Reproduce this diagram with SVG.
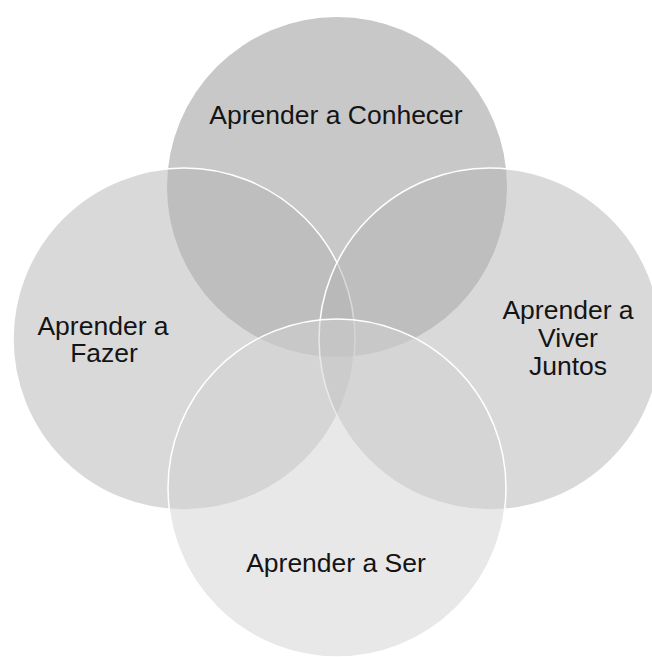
<svg xmlns="http://www.w3.org/2000/svg" width="652" height="657" viewBox="0 0 652 657">
  <style>
    .ring { stroke: #ffffff; stroke-width: 1.5; }
    .label { font-family: "Liberation Sans", Arial, sans-serif; font-size: 26.5px; fill: #141414; text-anchor: middle; }
  </style>
  <rect width="652" height="657" fill="#ffffff"/>
  <g id="connectors"/>
  <g id="conhecer">
    <circle cx="337" cy="187" r="170" fill="#c8c8c8"/>
    <text class="label" x="336" y="124">Aprender a Conhecer</text>
  </g>
  <g id="fazer">
    <circle class="ring" cx="184" cy="339" r="171" fill="#b3b3b3" fill-opacity="0.5"/>
    <text class="label" x="103" y="335">Aprender a</text>
    <text class="label" x="104" y="362">Fazer</text>
  </g>
  <g id="viver-juntos">
    <circle class="ring" cx="490" cy="339" r="171" fill="#b3b3b3" fill-opacity="0.5"/>
    <text class="label" x="568" y="319">Aprender a</text>
    <text class="label" x="568" y="347">Viver</text>
    <text class="label" x="568" y="375">Juntos</text>
  </g>
  <g id="ser">
    <circle class="ring" cx="337" cy="488" r="169" fill="#d1d1d1" fill-opacity="0.5"/>
    <text class="label" x="336" y="572">Aprender a Ser</text>
  </g>
</svg>
